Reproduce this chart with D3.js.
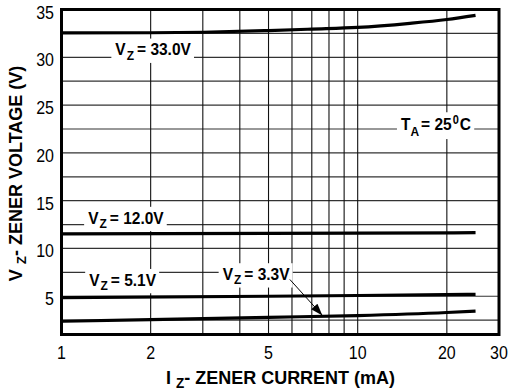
<!DOCTYPE html>
<html><head><meta charset="utf-8">
<script src="https://cdn.jsdelivr.net/npm/d3@7"></script>
<style>
html,body{margin:0;padding:0;background:#fff;}
text{font-family:"Liberation Sans",Arial,sans-serif;}
</style></head>
<body><svg id="c" width="510" height="390"></svg>
<script>
// ---- data ----
const xTicks = [1, 2, 5, 10, 20, 30];
const xGrid = [2, 3, 4, 5, 6, 7, 8, 9, 10, 20];
const yTicks = [5, 10, 15, 20, 25, 30, 35];
const yGrid = [2.5, 5, 7.5, 10, 12.5, 15, 17.5, 20, 22.5, 25, 27.5, 30, 32.5];

const i33 = [1, 2, 3, 5, 7, 10, 15, 20, 25];
const v33 = [32.55, 32.57, 32.62, 32.8, 32.95, 33.12, 33.55, 33.95, 34.38];
const i12 = [1, 5, 10, 25];
const v12 = [11.52, 11.57, 11.6, 11.65];
const i51 = [1, 5, 10, 25];
const v51 = [4.85, 5.0, 5.08, 5.2];
const i33b = [1, 2, 5, 10, 20, 25];
const v33b = [2.38, 2.55, 2.8, 2.98, 3.3, 3.45];

const labelText = ["33.0V", "12.0V", "5.1V", "3.3V"];
const labelI = [1.52, 1.23, 1.24, 3.5];
const labelV = [30.2, 12.6, 6.1, 6.7];
const arrowFrom = [5.9, 6.76];
const arrowTo = [7.6, 3.0];
const tempLabel = {i: 14.0, v: 22.35};

// ---- layout ----
const svg = d3.select("#c");
const x = d3.scaleLog().domain([1, 30]).range([61.5, 499]);
const y = d3.scaleLinear().domain([1, 35]).range([334.5, 9.5]);
const SY = 1.1; // vertical text stretch seen in the reference

const g = svg.append("g");

// grid
g.selectAll(".hg").data(yGrid).enter().append("line")
  .attr("x1", x(1)).attr("x2", x(30))
  .attr("y1", d => y(d)).attr("y2", d => y(d))
  .attr("stroke", "#333").attr("stroke-width", 1.2);
g.selectAll(".vg").data(xGrid).enter().append("line")
  .attr("x1", d => x(d)).attr("x2", d => x(d))
  .attr("y1", y(1)).attr("y2", y(35))
  .attr("stroke", "#111").attr("stroke-width", 1.1);

// labels with white backgrounds
const labG = svg.append("g").attr("font-weight", "bold").attr("font-size", 15.5);
function addLabel(px, py, parts) {
  const lg = labG.append("g").attr("transform", `translate(${px},${py}) scale(1,${SY})`);
  const t = lg.append("text").attr("x", 0).attr("y", 0);
  parts.forEach(p => {
    const ts = t.append("tspan").text(p.t);
    if (p.fs) ts.attr("font-size", p.fs);
    if (p.dy) ts.attr("dy", p.dy);
    if (p.dx) ts.attr("dx", p.dx);
  });
  const bb = t.node().getBBox();
  lg.insert("rect", "text")
    .attr("x", bb.x - 4).attr("y", bb.y - 1)
    .attr("width", bb.width + 7).attr("height", bb.height + 1)
    .attr("fill", "#fff");
}
labelText.forEach((s, k) => {
  addLabel(x(labelI[k]), y(labelV[k]), [
    {t: "V"}, {t: "Z", fs: 12, dy: 4, dx: 1}, {t: "= " + s, dy: -4, dx: 3}
  ]);
});
addLabel(x(tempLabel.i), y(tempLabel.v), [
  {t: "T"}, {t: "A", fs: 12, dy: 5}, {t: "= 25", dy: -5, dx: 2},
  {t: "0", fs: 11, dy: -6, dx: 1}, {t: "C", dy: 6, dx: 1}
]);

// curves
const line = d3.line().x(d => x(d[0])).y(d => y(d[1])).curve(d3.curveMonotoneX);
[[i33, v33], [i12, v12], [i51, v51], [i33b, v33b]].forEach(([xi, vi]) => {
  svg.append("path").datum(xi.map((v, k) => [v, vi[k]]))
    .attr("d", line).attr("fill", "none")
    .attr("stroke", "#000").attr("stroke-width", 3.2);
});

// arrow
svg.append("defs").append("marker").attr("id", "ah")
  .attr("viewBox", "0 0 10 10").attr("refX", 10).attr("refY", 5)
  .attr("markerWidth", 12).attr("markerHeight", 12)
  .attr("markerUnits", "userSpaceOnUse").attr("orient", "auto")
  .append("path").attr("d", "M0,1.5 L10,5 L0,8.5 Z").attr("fill", "#000");
svg.append("line")
  .attr("x1", x(arrowFrom[0])).attr("y1", y(arrowFrom[1]))
  .attr("x2", x(arrowTo[0])).attr("y2", y(arrowTo[1]))
  .attr("stroke", "#000").attr("stroke-width", 1)
  .attr("marker-end", "url(#ah)");

// frame
svg.append("rect").attr("x", x(1)).attr("y", y(35))
  .attr("width", x(30) - x(1)).attr("height", y(1) - y(35))
  .attr("fill", "none").attr("stroke", "#000").attr("stroke-width", 3);

// tick labels
svg.append("g").selectAll("text").data(xTicks).enter().append("text")
  .attr("transform", d => `translate(${x(d)},358.5) scale(1,${SY})`)
  .attr("text-anchor", "middle").attr("font-size", 16).text(d => d);
svg.append("g").selectAll("text").data(yTicks).enter().append("text")
  .attr("transform", d => `translate(54,${y(d) + 9}) scale(1,${SY})`)
  .attr("text-anchor", "end").attr("font-size", 16).text(d => d);

// axis titles
const xt = svg.append("text").attr("transform", "translate(280.5,383.5) scale(1,1.05)")
  .attr("text-anchor", "middle").attr("font-weight", "bold").attr("font-size", 18);
xt.append("tspan").text("I ");
xt.append("tspan").text("Z").attr("font-size", 13.5).attr("dy", 4);
xt.append("tspan").text("- ZENER CURRENT (mA)").attr("dy", -4);

const yt = svg.append("text").attr("transform", "translate(22,173.5) rotate(-90)")
  .attr("text-anchor", "middle").attr("font-weight", "bold").attr("font-size", 18);
yt.append("tspan").text("V ");
yt.append("tspan").text("Z").attr("font-size", 13.5).attr("dy", 4);
yt.append("tspan").text("- ZENER VOLTAGE (V)").attr("dy", -4);
</script>
</body></html>
